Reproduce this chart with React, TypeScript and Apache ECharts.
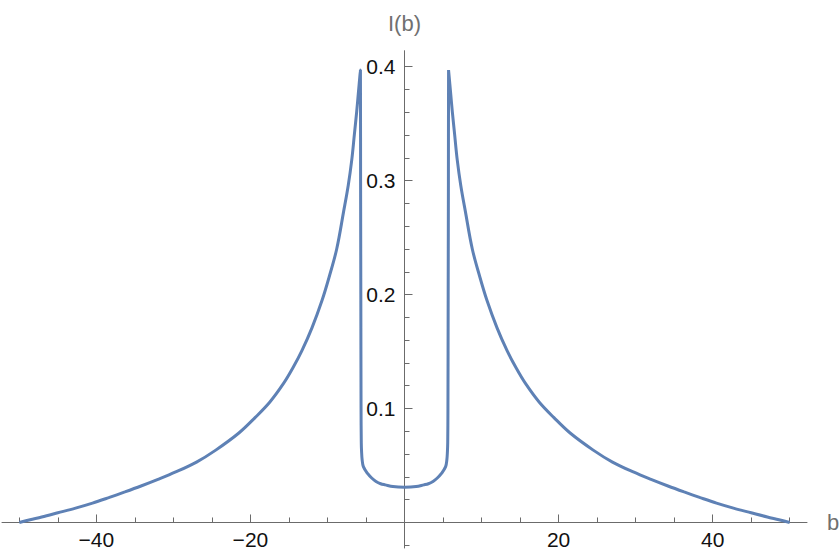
import React, { useEffect, useRef } from "react";
import * as echarts from "echarts";

// Parametric curve I(b), traced in order from b = -50 to b = 50
const bValues: number[] = [
  -50.0, -48.6, -47.1, -45.0, -42.7, -40.5, -38.4, -36.3, -34.2, -32.0,
  -29.7, -27.0, -24.5, -21.5, -19.4, -17.5, -15.7, -14.5, -13.3, -12.0,
  -10.7, -9.8, -8.8, -7.9, -7.3, -6.85, -6.5, -6.2, -6.0, -5.72,
  -5.70, -5.67, -5.64, -5.61, -5.57, -5.5, -5.34, -4.8, -4.26, -3.7,
  -3.1, -2.5, -1.5, 0.0, 1.5, 2.5, 3.1, 3.7, 4.26, 4.8,
  5.34, 5.5, 5.57, 5.61, 5.64, 5.67, 5.70, 5.72,
  6.0, 6.2, 6.5, 6.85, 7.3, 7.9, 8.8, 9.8, 10.7, 12.0,
  13.3, 14.5, 15.7, 17.5, 19.4, 21.5, 24.5, 27.0, 29.7, 32.0,
  34.2, 36.3, 38.4, 40.5, 42.7, 45.0, 47.1, 48.6, 50.0,
];
const iValues: number[] = [
  0.0, 0.0024, 0.0048, 0.0085, 0.0126, 0.017, 0.0218, 0.0268, 0.032, 0.0378,
  0.0443, 0.053, 0.0635, 0.0785, 0.092, 0.1055, 0.122, 0.1355, 0.151, 0.171,
  0.195, 0.215, 0.24, 0.273, 0.296, 0.318, 0.341, 0.361, 0.376, 0.397,
  0.3, 0.2, 0.1, 0.07, 0.062, 0.055, 0.049, 0.043, 0.039, 0.036,
  0.034, 0.033, 0.0315, 0.031, 0.0315, 0.033, 0.034, 0.036, 0.039, 0.043,
  0.049, 0.055, 0.062, 0.07, 0.1, 0.2, 0.3, 0.397,
  0.376, 0.361, 0.341, 0.318, 0.296, 0.273, 0.24, 0.215, 0.195, 0.171,
  0.151, 0.1355, 0.122, 0.1055, 0.092, 0.0785, 0.0635, 0.053, 0.0443, 0.0378,
  0.032, 0.0268, 0.0218, 0.017, 0.0126, 0.0085, 0.0048, 0.0024, 0.0,
];

const xMajorTicks: number[] = [-40, -20, 20, 40];
const xMinorTicks: number[] = [-50, -45, -35, -30, -25, -15, -10, -5, 5, 10, 15, 25, 30, 35, 45, 50];
const yMajorTicks: number[] = [0.1, 0.2, 0.3, 0.4];
const yMinorTicks: number[] = [
  -0.02, 0.02, 0.04, 0.06, 0.08, 0.12, 0.14, 0.16, 0.18, 0.22, 0.24, 0.26, 0.28,
  0.32, 0.34, 0.36, 0.38,
];

const AXIS_COLOR = "#6b6b6b";
const FONT = "'Liberation Sans', Arial, sans-serif";

const X_MIN = -52.25;
const X_MAX = 52.25;
const Y_MIN = -0.0224;
const Y_MAX = 0.414;
const GRID = { left: 2, right: 33, top: 50.7, bottom: 8 };
const W = 840;
const H = 556;

export default function App() {
  const ref = useRef<HTMLDivElement>(null);
  useEffect(() => {
    if (!ref.current) return;
    const chart = echarts.init(ref.current, undefined, { renderer: "svg" });
    const data = bValues.map((b, i) => [b, iValues[i]]);
    const gw = W - GRID.left - GRID.right;
    const gh = H - GRID.top - GRID.bottom;
    // distance from grid edge to the zero lines (axes cross at the origin)
    const yAxisShift = ((0 - X_MIN) / (X_MAX - X_MIN)) * gw;
    const xAxisShift = ((0 - Y_MIN) / (Y_MAX - Y_MIN)) * gh;
    const xBase = {
      type: "value" as const,
      min: X_MIN,
      max: X_MAX,
      position: "bottom" as const,
      offset: -xAxisShift,
      splitLine: { show: false },
    };
    const yBase = {
      type: "value" as const,
      min: Y_MIN,
      max: Y_MAX,
      position: "left" as const,
      offset: -yAxisShift,
      splitLine: { show: false },
    };
    chart.setOption({
      animation: false,
      grid: { ...GRID, outerBoundsMode: "none", containLabel: false },
      xAxis: [
        {
          ...xBase,
          axisLine: { onZero: false, lineStyle: { color: AXIS_COLOR, width: 1 } },
          axisTick: { inside: true, length: 8, customValues: xMajorTicks, lineStyle: { color: AXIS_COLOR } },
          axisLabel: {
            customValues: xMajorTicks,
            formatter: (v: number) => String(v).replace("-", "\u2212"),
            fontSize: 21,
            color: "#111",
            margin: 7,
            fontFamily: FONT,
          },
          name: "b",
          nameLocation: "end",
          nameGap: 20,
          nameTextStyle: { fontSize: 22, color: "#707070", fontFamily: FONT },
        },
        {
          ...xBase,
          axisLine: { show: false, onZero: false },
          axisTick: { inside: true, length: 5, customValues: xMinorTicks, lineStyle: { color: AXIS_COLOR } },
          axisLabel: { show: false },
        },
      ],
      yAxis: [
        {
          ...yBase,
          axisLine: { onZero: false, lineStyle: { color: AXIS_COLOR, width: 1 } },
          axisTick: { inside: true, length: 8, customValues: yMajorTicks, lineStyle: { color: AXIS_COLOR } },
          axisLabel: {
            customValues: yMajorTicks,
            formatter: (v: number) => v.toFixed(1),
            fontSize: 21,
            color: "#111",
            margin: 9,
            fontFamily: FONT,
          },
          name: "I(b)",
          nameLocation: "end",
          nameGap: 16,
          nameTextStyle: { fontSize: 22, color: "#707070", fontFamily: FONT },
        },
        {
          ...yBase,
          axisLine: { show: false, onZero: false },
          axisTick: { inside: true, length: 5, customValues: yMinorTicks, lineStyle: { color: AXIS_COLOR } },
          axisLabel: { show: false },
        },
      ],
      series: [
        {
          type: "line",
          data,
          xAxisIndex: 0,
          yAxisIndex: 0,
          showSymbol: false,
          smooth: 0.35,
          lineStyle: { color: "#5E81B5", width: 3 },
          clip: false,
        },
      ],
    });
    return () => chart.dispose();
  }, []);
  return (
    <div
      ref={ref}
      style={{ position: "fixed", left: 0, top: 0, width: W, height: H, background: "#fff" }}
    />
  );
}
